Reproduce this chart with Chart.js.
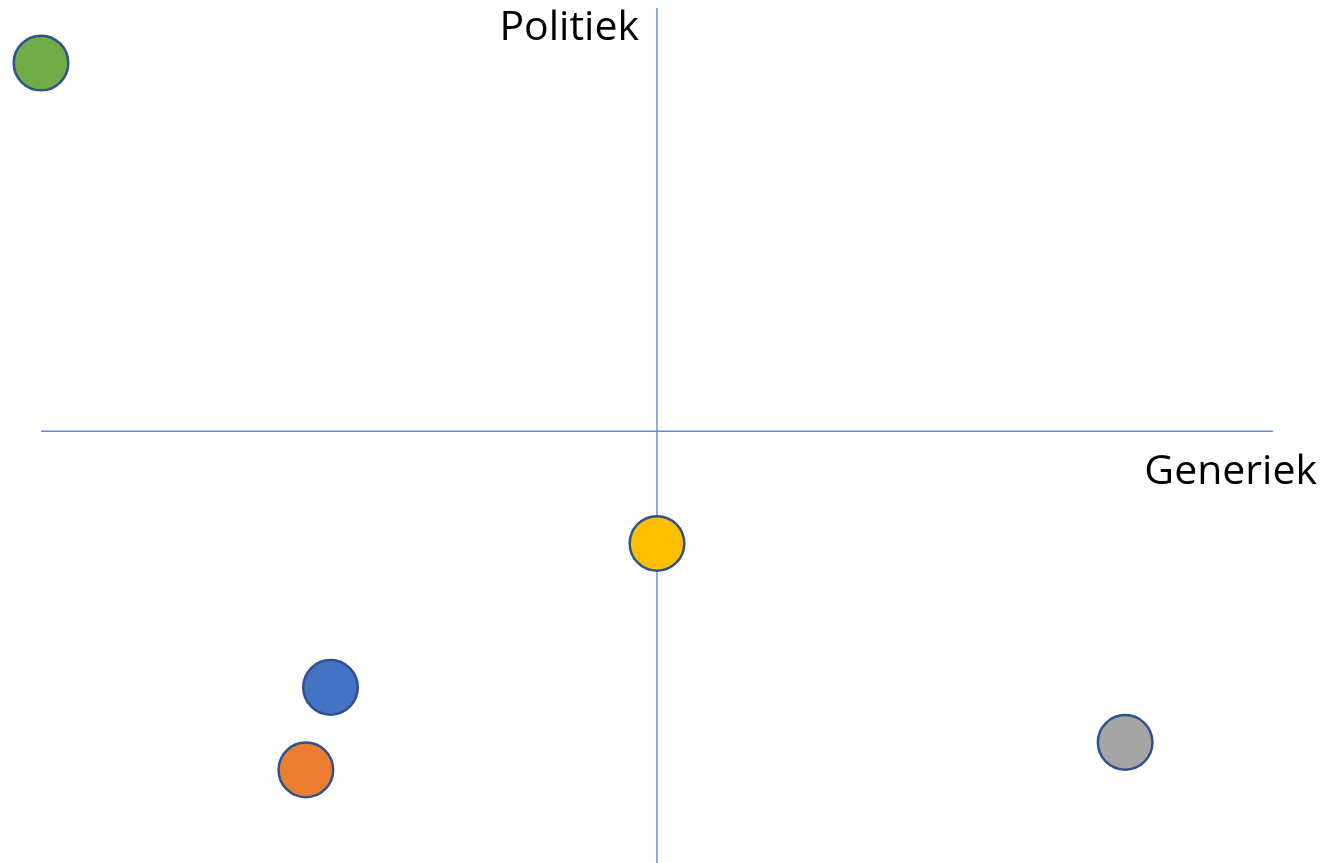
<!DOCTYPE html>
<html>
<head>
<meta charset="utf-8">
<script src="https://cdn.jsdelivr.net/npm/chart.js@4/dist/chart.umd.min.js"></script>
<style>
  html, body { margin: 0; padding: 0; background: #fff; }
  #wrap { width: 1331px; height: 863px; }
</style>
</head>
<body>
<div id="wrap"><canvas id="quadrant"></canvas></div>
<script>
// values, axes run -10..10
const xValues = [-10, 0, -5.3, -5.7, 7.6];
const yValues = [8.7, -2.65, -6.05, -8.0, -7.35];
const pointColors = ['#70AD47', '#FFC000', '#4472C4', '#ED7D31', '#A5A5A5'];
const xAxisLabel = 'Generiek';
const yAxisLabel = 'Politiek';

const lineColor = '#5F8AD6';

// the two crossing axes at value 0, plus their names
const quadrantAxes = {
  id: 'quadrantAxes',
  beforeDatasetsDraw(chart) {
    const ctx = chart.ctx;
    const a = chart.chartArea;
    const x0 = chart.scales.x.getPixelForValue(0);
    const y0 = chart.scales.y.getPixelForValue(0);
    ctx.save();
    ctx.strokeStyle = lineColor;
    ctx.lineWidth = 1.4;
    ctx.beginPath();
    ctx.moveTo(x0, a.top);
    ctx.lineTo(x0, a.bottom);
    ctx.moveTo(a.left, y0);
    ctx.lineTo(a.right, y0);
    ctx.stroke();
    ctx.restore();
  },
  afterDraw(chart) {
    const ctx = chart.ctx;
    const xs = chart.scales.x;
    ctx.save();
    ctx.fillStyle = '#000';
    ctx.font = '41px "Open Sans"';
    ctx.textAlign = 'right';
    ctx.textBaseline = 'alphabetic';
    ctx.fillText(yAxisLabel, xs.getPixelForValue(0) - 18, 40);
    ctx.fillText(xAxisLabel, 1317, 484);
    ctx.restore();
  }
};

let pts = xValues.map((x, i) => ({ x: x, y: yValues[i] }));

let ctx = document.querySelector('#quadrant');
let chart = new Chart(ctx, {
  type: 'scatter',
  data: {
    datasets: [{
      data: pts,
      backgroundColor: pointColors,
      borderColor: '#2F528F',
      borderWidth: 2.5,
      pointRadius: 27.3,
      pointHoverRadius: 27.3,
      clip: false
    }]
  },
  options: {
    responsive: true,
    maintainAspectRatio: false,
    animation: false,
    layout: { autoPadding: false, padding: { left: 41, right: 58, top: 8, bottom: 0 } },
    plugins: { legend: { display: false }, tooltip: { enabled: false } },
    scales: {
      x: {
        min: -10, max: 10,
        ticks: { display: false },
        border: { display: false },
        grid: { drawOnChartArea: false, drawTicks: false }
      },
      y: {
        min: -10.2, max: 10,
        ticks: { display: false },
        border: { display: false },
        grid: { drawOnChartArea: false, drawTicks: false }
      }
    }
  },
  plugins: [quadrantAxes]
});
</script>
</body>
</html>
